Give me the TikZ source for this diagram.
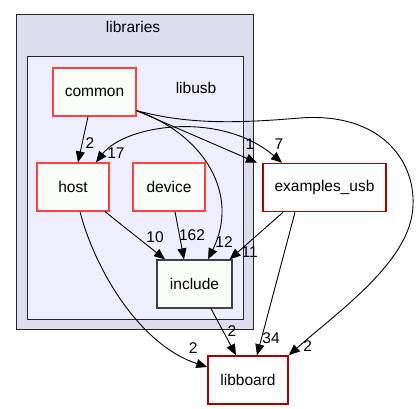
\documentclass[tikz,border=0pt]{standalone}
\usepackage{fontspec}
\setmainfont{Liberation Sans}
\usetikzlibrary{arrows.meta}

\definecolor{dirred}{RGB}{255,64,64}
\definecolor{extred}{RGB}{175,0,0}
\definecolor{dirfill}{RGB}{250,252,248}
\definecolor{outerfill}{RGB}{221,221,238}
\definecolor{innerfill}{RGB}{238,238,255}

\begin{document}
\begin{tikzpicture}[x=1pt, y=-1pt,
    clusterbox/.style={rectangle, draw=black!85, line width=1pt, inner sep=0pt},
    dirbox/.style={rectangle, draw=dirred, line width=1.3pt, fill=dirfill, minimum height=48pt, font=\fontsize{15.5}{18}\selectfont},
    extbox/.style={rectangle, draw=extred, line width=1.6pt, fill=white, minimum height=48pt, font=\fontsize{15.5}{18}\selectfont},
    dep/.style={-{Triangle[length=11pt, width=9pt]}, line width=0.9pt},
    bidep/.style={{Triangle[length=11pt, width=9pt]}-{Triangle[length=11pt, width=9pt]}, line width=0.9pt},
    lbl/.style={font=\fontsize{15.5}{18}\selectfont, inner sep=0pt}
]
\useasboundingbox (0,0) rectangle (420,409);

% Cluster
\node[clusterbox, fill=outerfill, minimum width=237pt, minimum height=314pt] (libraries) at (134.5,172) {};
\node[clusterbox, fill=innerfill, minimum width=216pt, minimum height=262pt] (libusb) at (135,188) {};
\node[lbl] (librarieslbl) at (133,27) {libraries};
\node[lbl] (libusblbl) at (196,88) {libusb};

% Verzeichnisse
\node[dirbox, minimum width=83pt] (common) at (94.5,92) {common};
\node[dirbox, minimum width=72pt] (host) at (73,187) {host};
\node[dirbox, minimum width=72pt] (device) at (169,187) {device};
\node[dirbox, draw=black!75, minimum width=75pt] (include) at (194.5,284) {include};
\node[extbox, minimum width=123pt] (examples) at (324.5,187.5) {examples\_usb};
\node[extbox, minimum width=80pt] (libboard) at (248,380) {libboard};

% Abhaengigkeiten
\draw[dep] ([xshift=-6.5pt]common.south) -- ([xshift=5pt]host.north)
    node[lbl, pos=1, xshift=12pt, yshift=19pt] {2};
\draw[bidep] ([xshift=23pt]host.north) .. controls (125,125) and (220,110) .. ([xshift=-42.5pt]examples.north)
    node[lbl, pos=0, xshift=20pt, yshift=9pt] {17}
    node[lbl, pos=1, xshift=-3pt, yshift=19pt] {7};
\draw[dep] ([yshift=6pt]common.south east) -- ([xshift=-67.5pt]examples.north)
    node[lbl, pos=1, xshift=-7pt, yshift=19pt] {1};
\draw[dep] ([yshift=6pt]common.south east) .. controls (205,135) and (240,195) .. ([xshift=13.5pt]include.north)
    node[lbl, pos=1, xshift=16pt, yshift=17pt] {12};
\draw[dep] ([yshift=6pt]common.south east) .. controls (190,125) and (240,123) .. (300,118)
    .. controls (380,112) and (415,160) .. (413,205)
    .. controls (412,260) and (340,310) .. (libboard.north east)
    node[lbl, pos=1, xshift=19pt, yshift=9pt] {2};
\draw[dep] ([xshift=32pt]host.south) -- ([xshift=-29.5pt]include.north)
    node[lbl, pos=1, xshift=-10pt, yshift=22pt] {10};
\draw[dep] ([xshift=7pt]host.south) .. controls (95,270) and (140,345) .. ([yshift=13pt]libboard.west)
    node[lbl, pos=1, xshift=-14pt, yshift=19pt] {2};
\draw[dep] ([xshift=6pt]device.south) -- ([xshift=-10.5pt]include.north)
    node[lbl, pos=1, xshift=8pt, yshift=24pt] {162};
\draw[dep] ([xshift=-41.5pt]examples.south) -- ([xshift=-3pt]include.north east)
    node[lbl, pos=1, xshift=20pt, yshift=7pt] {11};
\draw[dep] ([xshift=-29.5pt]examples.south) -- ([xshift=9pt]libboard.north)
    node[lbl, pos=1, xshift=14pt, yshift=17pt] {34};
\draw[dep] ([xshift=16.5pt]include.south) -- ([xshift=-12pt]libboard.north)
    node[lbl, pos=1, xshift=-4pt, yshift=24pt] {2};

\end{tikzpicture}
\end{document}
